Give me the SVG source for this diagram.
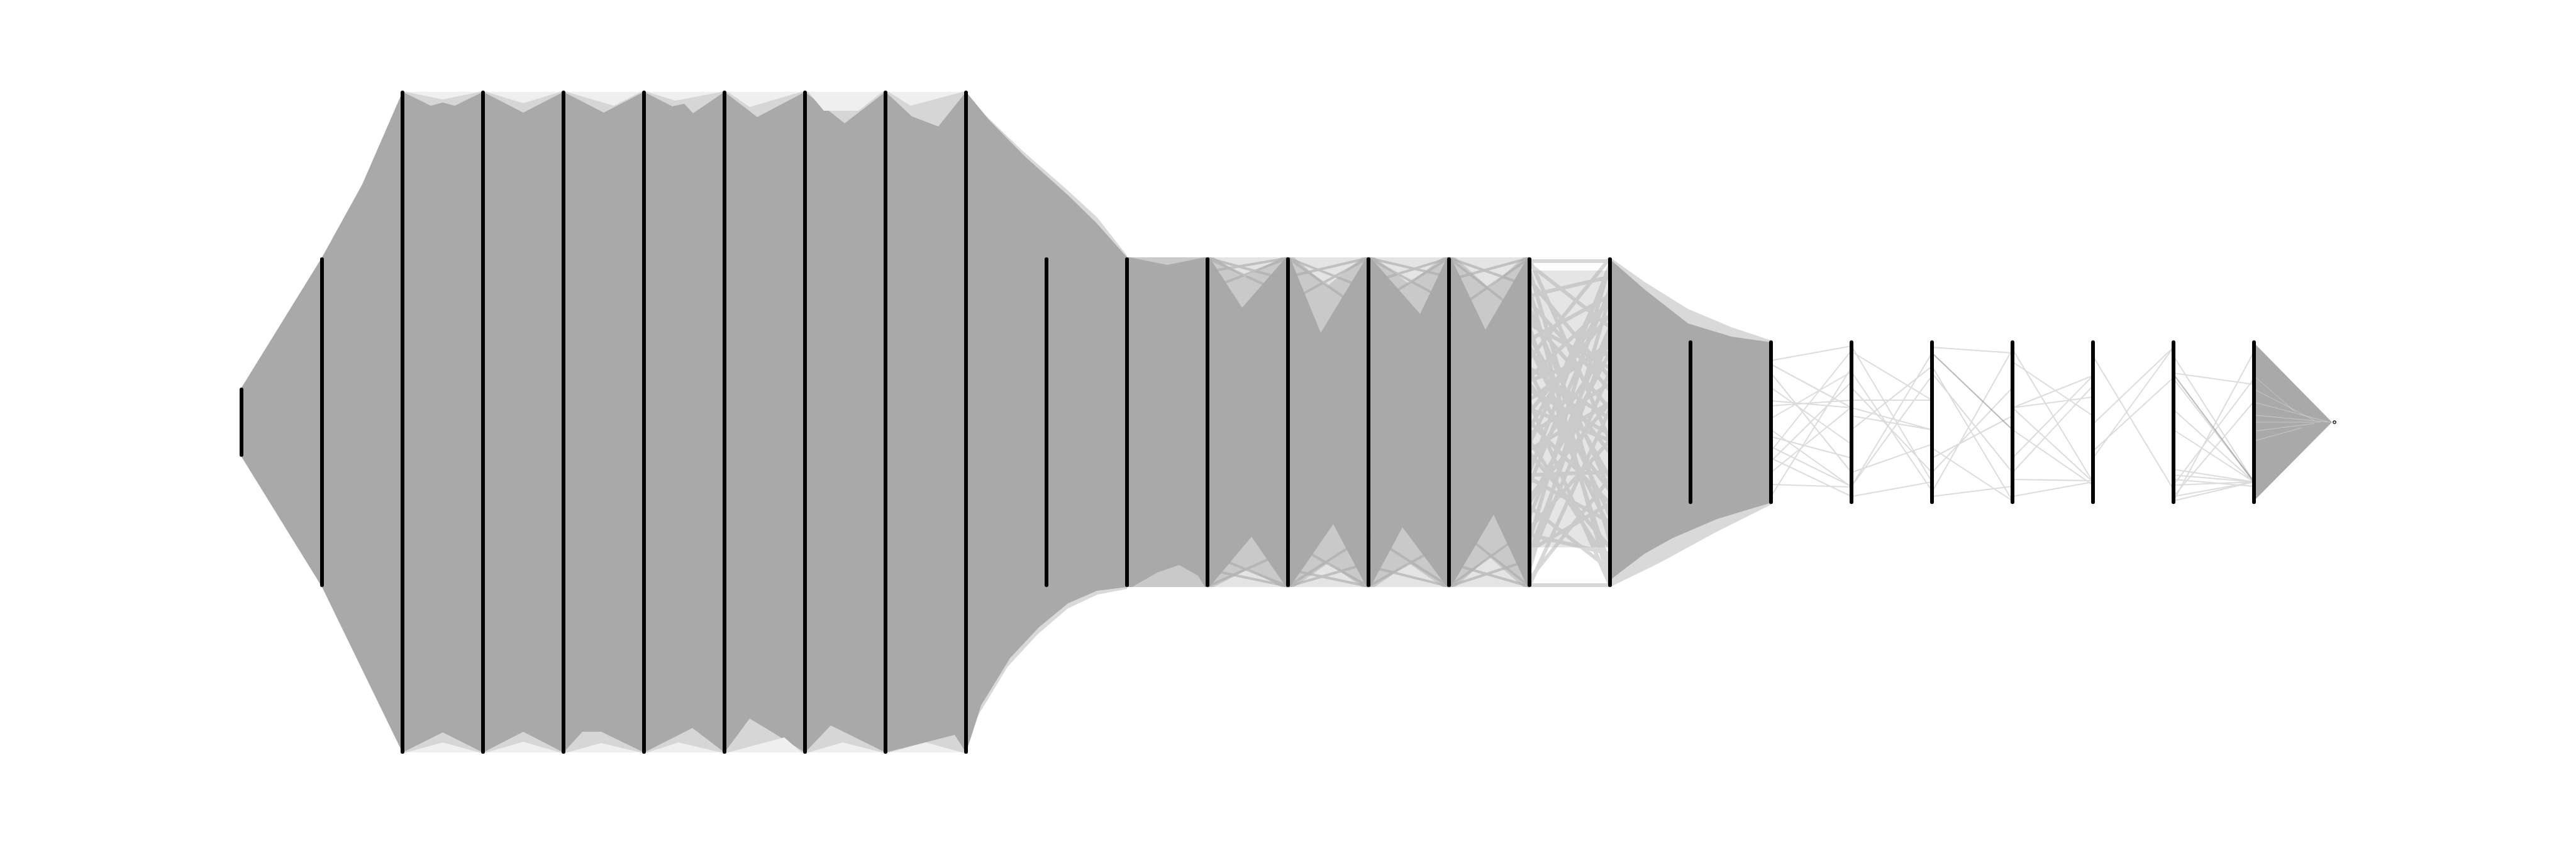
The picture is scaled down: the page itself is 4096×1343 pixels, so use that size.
<svg xmlns="http://www.w3.org/2000/svg" width="4096" height="1343" viewBox="0 0 4096 1343">
<style>
.bar{stroke:#000;stroke-width:6;stroke-linecap:round}
.g{fill:#a9a9a9}
.l1{fill:#d6d6d6}
.l2{fill:#efefef}
.n1{fill:#c9c9c9}
.n2{fill:#e4e4e4}
.fr{fill:#d9d9d9}
.dk{stroke:#a9a9a9;stroke-width:4;opacity:0.6;fill:none}
.sp{stroke:#a9a9a9;stroke-width:6;opacity:0.45;fill:none}
.sl{stroke:#9c9c9c;stroke-width:2;opacity:0.35;fill:none}
.sd{stroke:#8c8c8c;stroke-width:2;opacity:0.6;fill:none}
.wl{stroke:#ffffff;stroke-width:1;opacity:0.35;fill:none}
</style>
<rect width="4096" height="1343" fill="#fff"/>
<g id="connectors">
  <!-- input fans -->
  <polygon class="g" points="384,616 512,409 512,933 384,726"/>
  <polygon class="g" points="512,409 576,293 640,146 640,1196 512,933"/>
  <!-- dense block i2-i9 -->
  <rect class="g" x="640" y="146" width="896" height="1050"/>
  <!-- top notches -->
  <polygon class="l1" points="640,146 685,168 704,163 723,168 768,146"/>
  <polygon class="l2" points="645,146 704,158 763,146"/>
  <polygon class="l1" points="768,146 832,179 896,146"/>
  <polygon class="l2" points="773,146 832,164 891,146"/>
  <polygon class="l1" points="896,146 960,179 1024,146"/>
  <polygon class="l2" points="901,146 976,168 1019,146"/>
  <polygon class="l1" points="1024,146 1069,169 1088,165 1102,180 1152,146"/>
  <polygon class="l2" points="1029,146 1074,160 1147,146"/>
  <polygon class="l1" points="1152,146 1204,186 1280,146"/>
  <polygon class="l2" points="1157,146 1192,170 1275,146"/>
  <polygon class="l1" points="1280,146 1343,196 1408,146"/>
  <polygon class="l2" points="1285,146 1310,176 1365,176 1403,146"/>
  <polygon class="l1" points="1408,146 1450,185 1492,201 1536,146"/>
  <polygon class="l2" points="1413,146 1448,168 1531,146"/>
  <!-- bottom notches -->
  <polygon class="l1" points="640,1196 704,1164 768,1196"/>
  <polygon class="l2" points="645,1196 704,1180 763,1196"/>
  <polygon class="l1" points="768,1196 832,1163 896,1196"/>
  <polygon class="l2" points="773,1196 832,1179 891,1196"/>
  <polygon class="l1" points="896,1196 926,1163 956,1163 1024,1196"/>
  <polygon class="l2" points="901,1196 956,1181 1019,1196"/>
  <polygon class="l1" points="1024,1196 1101,1157 1152,1196"/>
  <polygon class="l2" points="1029,1196 1079,1180 1147,1196"/>
  <polygon class="l1" points="1152,1196 1192,1142 1230,1165 1280,1196"/>
  <polygon class="l2" points="1157,1196 1247,1172 1275,1196"/>
  <polygon class="l1" points="1280,1196 1321,1153 1408,1196"/>
  <polygon class="l2" points="1285,1196 1340,1180 1403,1196"/>
  <polygon class="l1" points="1408,1196 1518,1168 1536,1196"/>
  <polygon class="l2" points="1413,1196 1472,1180 1531,1196"/>
  <!-- transition i9 -> i11 -->
  <polygon class="fr" points="1536,146 1566,182 1624,238 1695,300 1745,346 1792,406 1792,936 1745,945 1698,967 1650,1008 1602,1060 1556,1136 1536,1196"/>
  <polygon class="g" points="1536,146 1572,190 1629,248 1698,310 1744,355 1792,409 1792,933 1744,939 1698,959 1652,997 1606,1046 1560,1121 1536,1196"/>
  <!-- dense block i11-i16 -->
  <rect class="g" x="1792" y="409" width="640" height="524"/>
  <polygon class="n1" points="1796,409 1856,421 1916,409"/>
  <polygon class="n1" points="1800,933 1840,910 1875,898 1905,915 1916,933"/>
  <polygon class="n1" points="1923,409 1975,489 2045,409"/>
  <polygon class="n2" points="1930,409 1980,440 2038,409"/>
  <polygon class="n1" points="1923,933 1990,853 2045,933"/>
  <polygon class="n2" points="1930,933 1984,905 2038,933"/>
  <polygon class="n1" points="2051,409 2100,529 2173,409"/>
  <polygon class="n2" points="2058,409 2110,455 2166,409"/>
  <polygon class="n1" points="2051,933 2120,833 2173,933"/>
  <polygon class="n2" points="2058,933 2112,895 2166,933"/>
  <polygon class="n1" points="2179,409 2258,499 2301,409"/>
  <polygon class="n2" points="2186,409 2240,451 2294,409"/>
  <polygon class="n1" points="2179,933 2230,838 2301,933"/>
  <polygon class="n2" points="2186,933 2240,895 2294,933"/>
  <polygon class="n1" points="2307,409 2362,524 2429,409"/>
  <polygon class="n2" points="2314,409 2368,458 2422,409"/>
  <polygon class="n1" points="2307,933 2375,818 2429,933"/>
  <polygon class="n2" points="2314,933 2368,885 2422,933"/>
  <!-- bundles crossing notches -->
  <path class="dk" d="M1920,410 L2048,470 M1920,410 L2048,445 M2048,410 L1920,460 M2048,410 L1920,432 M1920,932 L2048,875 M2048,932 L1920,880 M2048,932 L1920,905"/>
  <path class="dk" d="M2048,410 L2176,500 M2048,410 L2176,460 M2176,410 L2048,480 M2176,410 L2048,440 M2048,932 L2176,850 M2048,932 L2176,895 M2176,932 L2048,860 M2176,932 L2048,905"/>
  <path class="dk" d="M2176,410 L2304,480 M2176,410 L2304,440 M2304,410 L2176,490 M2304,410 L2176,450 M2176,932 L2304,860 M2304,932 L2176,850 M2304,932 L2176,900"/>
  <path class="dk" d="M2304,410 L2432,510 M2304,410 L2432,455 M2432,410 L2304,500 M2432,410 L2304,445 M2304,932 L2432,840 M2304,932 L2432,890 M2432,932 L2304,830 M2432,932 L2304,895"/>
  <!-- sparse gap i16 -> i17 -->
  <rect x="2432" y="430" width="128" height="440" fill="#a9a9a9" opacity="0.3"/>
  <path class="sp" d="M2432,412 L2560,700 M2432,420 L2560,520 M2432,430 L2560,860 M2432,445 L2560,600 M2432,460 L2560,930 M2432,470 L2560,440 M2432,490 L2560,780 M2432,505 L2560,650 M2432,520 L2560,900 M2432,540 L2560,470 M2432,555 L2560,720 M2432,570 L2560,410 M2432,590 L2560,840 M2432,605 L2560,560 M2432,620 L2560,690 M2432,640 L2560,930 M2432,655 L2560,500 M2432,670 L2560,800 M2432,690 L2560,610 M2432,705 L2560,430 M2432,720 L2560,870 M2432,740 L2560,545 M2432,755 L2560,750 M2432,770 L2560,460 M2432,790 L2560,640 M2432,805 L2560,905 M2432,820 L2560,520 M2432,840 L2560,700 M2432,860 L2560,420 M2432,875 L2560,800 M2432,890 L2560,590 M2432,905 L2560,470 M2432,920 L2560,760 M2432,930 L2560,650 M2432,415 L2560,415 M2432,930 L2560,930 M2432,480 L2560,620 M2432,600 L2560,480 M2432,700 L2560,900 M2432,800 L2560,560 M2432,850 L2560,880 M2432,550 L2560,820 M2432,650 L2560,700 M2432,750 L2560,420 M2432,880 L2560,530 M2432,515 L2560,585 M2432,585 L2560,665 M2432,635 L2560,545 M2432,715 L2560,640 M2432,760 L2560,830 M2432,535 L2560,760 M2432,680 L2560,470 M2432,610 L2560,780"/>
  <!-- fan i17 -> i19 -->
  <polygon class="fr" points="2560,409 2615,448 2684,491 2753,520 2816,541 2816,802 2730,845 2638,895 2560,933"/>
  <polygon class="g" points="2560,412 2615,460 2684,514 2753,535 2816,544 2816,799 2730,825 2660,855 2615,880 2560,922"/>
  <!-- sparse gaps i19 -> i25 -->
  <path class="sl" d="M2816,573 L2944,550 M2816,579 L2944,648 M2816,637 L2944,648 M2816,645 L2944,636 M2816,665 L2944,591 M2816,683 L2944,774 M2816,710 L2944,773 M2816,717 L2944,557 M2816,728 L2944,789 M2816,770 L2944,774 M2816,789 L2944,584 M2816,616 L2944,706 M2816,751 L2944,647 M2816,733 L2944,607 M2816,593 L2944,751 M2816,694 L2944,728"/>
  <path class="sl" d="M2944,550 L3072,766 M2944,559 L3072,636 M2944,591 L3072,780 M2944,636 L3072,636 M2944,648 L3072,683 M2944,773 L3072,597 M2944,789 L3072,766 M2944,773 L3072,561 M2944,616 L3072,751 M2944,683 L3072,582 M2944,751 L3072,706 M2944,661 L3072,683"/>
  <path class="sl" d="M3072,552 L3200,561 M3072,582 L3200,796 M3072,593 L3200,751 M3072,789 L3200,773 M3072,728 L3200,661 M3072,782 L3200,555 M3072,751 L3200,616 M3072,712 L3200,796"/>
  <path class="sd" d="M3072,561 L3200,683"/>
  <path class="sl" d="M3200,648 L3328,597 M3200,648 L3328,631 M3200,648 L3328,766 M3200,789 L3328,766 M3200,762 L3328,764 M3200,555 L3328,766 M3200,728 L3328,597 M3200,751 L3328,613 M3200,575 L3328,661 M3200,683 L3328,771"/>
  <path class="sl" d="M3328,674 L3456,552 M3328,728 L3456,552 M3328,566 L3456,778 M3328,717 L3456,600"/>
  <path class="sl" d="M3456,593 L3584,611 M3456,602 L3584,766 M3456,651 L3584,766 M3456,683 L3584,766 M3456,746 L3584,766 M3456,755 L3584,766 M3456,771 L3584,766 M3456,789 L3584,766 M3456,796 L3584,766 M3456,566 L3584,766 M3456,789 L3584,638 M3456,771 L3584,602 M3456,796 L3584,559 M3456,762 L3584,773"/>
  <path class="sd" d="M3456,595 L3584,766"/>
  <!-- output fan -->
  <polygon class="g" points="3584,545 3708,671 3584,796"/>
  <path class="wl" d="M3587,600 L3650,655 M3587,620 L3680,668 M3587,640 L3700,670 M3587,660 L3705,671 M3587,671 L3690,671 M3587,685 L3680,673 M3587,700 L3660,680"/>
</g>
<g id="layer0"><line class="bar" x1="384" y1="619" x2="384" y2="723"/></g>
<g id="layer1"><line class="bar" x1="512" y1="412" x2="512" y2="930"/></g>
<g id="layer2"><line class="bar" x1="640" y1="147" x2="640" y2="1195"/></g>
<g id="layer3"><line class="bar" x1="768" y1="147" x2="768" y2="1195"/></g>
<g id="layer4"><line class="bar" x1="896" y1="147" x2="896" y2="1195"/></g>
<g id="layer5"><line class="bar" x1="1024" y1="147" x2="1024" y2="1195"/></g>
<g id="layer6"><line class="bar" x1="1152" y1="147" x2="1152" y2="1195"/></g>
<g id="layer7"><line class="bar" x1="1280" y1="147" x2="1280" y2="1195"/></g>
<g id="layer8"><line class="bar" x1="1408" y1="147" x2="1408" y2="1195"/></g>
<g id="layer9"><line class="bar" x1="1536" y1="147" x2="1536" y2="1195"/></g>
<g id="layer10"><line class="bar" x1="1664" y1="412" x2="1664" y2="930"/></g>
<g id="layer11"><line class="bar" x1="1792" y1="412" x2="1792" y2="930"/></g>
<g id="layer12"><line class="bar" x1="1920" y1="412" x2="1920" y2="930"/></g>
<g id="layer13"><line class="bar" x1="2048" y1="412" x2="2048" y2="930"/></g>
<g id="layer14"><line class="bar" x1="2176" y1="412" x2="2176" y2="930"/></g>
<g id="layer15"><line class="bar" x1="2304" y1="412" x2="2304" y2="930"/></g>
<g id="layer16"><line class="bar" x1="2432" y1="412" x2="2432" y2="930"/></g>
<g id="layer17"><line class="bar" x1="2560" y1="412" x2="2560" y2="930"/></g>
<g id="layer18"><line class="bar" x1="2688" y1="544" x2="2688" y2="798"/></g>
<g id="layer19"><line class="bar" x1="2816" y1="544" x2="2816" y2="798"/></g>
<g id="layer20"><line class="bar" x1="2944" y1="544" x2="2944" y2="798"/></g>
<g id="layer21"><line class="bar" x1="3072" y1="544" x2="3072" y2="798"/></g>
<g id="layer22"><line class="bar" x1="3200" y1="544" x2="3200" y2="798"/></g>
<g id="layer23"><line class="bar" x1="3328" y1="544" x2="3328" y2="798"/></g>
<g id="layer24"><line class="bar" x1="3456" y1="544" x2="3456" y2="798"/></g>
<g id="layer25"><line class="bar" x1="3584" y1="544" x2="3584" y2="798"/></g>
<g id="output"><circle cx="3712" cy="671" r="2.2" fill="none" stroke="#000" stroke-width="1.2"/></g>
</svg>
